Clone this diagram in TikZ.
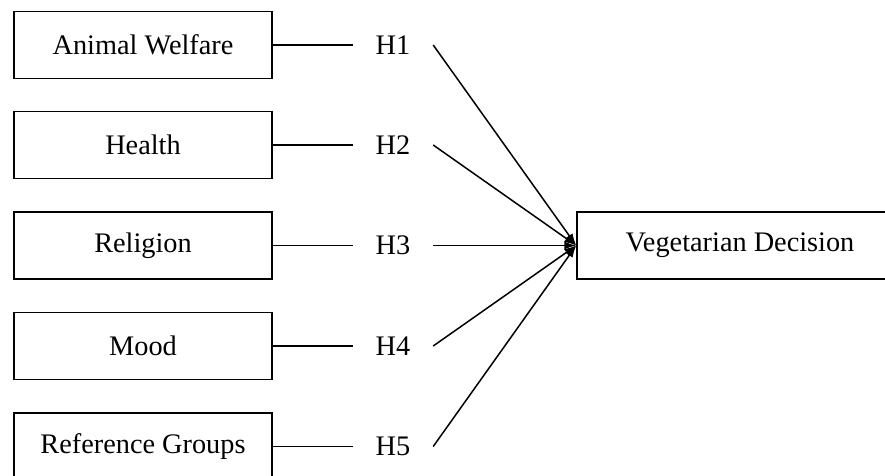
\documentclass[tikz,border=0pt]{standalone}
\usepackage{fontspec}
\setmainfont{Liberation Serif}
\usetikzlibrary{arrows.meta}
\begin{document}
\begin{tikzpicture}[x=1pt,y=-1pt,
  factor/.style={draw, line width=1.5pt, minimum width=258pt, minimum height=67pt, inner sep=0pt, font=\fontsize{28.3}{34}\selectfont},
  hyp/.style={minimum width=80pt, inner sep=0pt, font=\fontsize{28.3}{34}\selectfont},
  link/.style={line width=1.5pt},
  arr/.style={line width=1.5pt, -{Latex[length=12pt,width=8pt]}}]
\clip (0,0) rectangle (885,475);
\useasboundingbox (0,0) rectangle (885,475);
\node[factor] (aw) at (143,45) {Animal Welfare};
\node[factor] (he) at (143,145) {Health};
\node[factor] (re) at (143,245.5) {Religion};
\node[factor] (mo) at (143,346) {Mood};
\node[factor] (rg) at (143,446.5) {Reference Groups};
\node[factor, minimum width=326pt] (vd) at (740,245.5) {Vegetarian Decision};
\node[hyp] (h1) at (393,45) {H1};
\node[hyp] (h2) at (393,145) {H2};
\node[hyp] (h3) at (393,245.5) {H3};
\node[hyp] (h4) at (393,346) {H4};
\node[hyp] (h5) at (393,446.5) {H5};
\foreach \b/\h in {aw/h1,he/h2,re/h3,mo/h4,rg/h5}{
  \draw[link] (\b.east) -- (\h.west);
  \draw[arr] (\h.east) -- (vd.west);
}
\end{tikzpicture}
\end{document}
